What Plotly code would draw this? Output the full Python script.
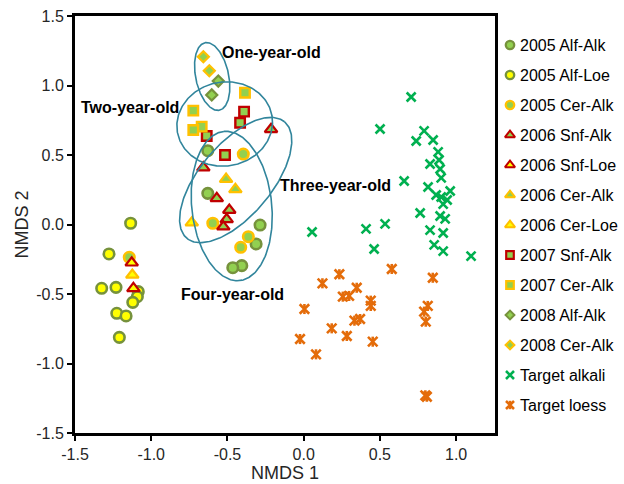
import numpy as np
import plotly.graph_objects as go

# ---------------- data ----------------
alfalk05_x = [-0.629, -0.629, -0.286, -0.312, -0.406, -0.465]
alfalk05_y = [0.531, 0.224, -0.004, -0.140, -0.296, -0.311]
alfloe05_x = [-1.135, -1.277, -1.325, -1.231, -1.085, -1.091, -1.121, -1.226, -1.165, -1.209]
alfloe05_y = [0.009, -0.212, -0.459, -0.452, -0.483, -0.519, -0.560, -0.639, -0.658, -0.812]
ceralk05_x = [-1.144, -0.396, -0.596, -0.363, -0.413]
ceralk05_y = [-0.236, 0.507, 0.009, -0.088, -0.164]
snfalk06_x = [-0.214, -0.658, -0.570, -0.488, -0.505, -0.527]
snfalk06_y = [0.685, 0.409, 0.188, 0.104, 0.037, -0.016]
snfloe06_x = [-1.128, -1.117]
snfloe06_y = [-0.275, -0.459]
ceralk06_x = [-0.509, -0.448]
ceralk06_y = [0.327, 0.253]
cerloe06_x = [-0.734, -1.124]
cerloe06_y = [0.013, -0.363]
snfalk07_x = [-0.391, -0.417, -0.636, -0.516]
snfalk07_y = [0.812, 0.732, 0.637, 0.500]
ceralk07_x = [-0.385, -0.724, -0.669, -0.724]
ceralk07_y = [0.948, 0.819, 0.704, 0.680]
alfalk08_x = [-0.560, -0.603]
alfalk08_y = [1.032, 0.932]
ceralk08_x = [-0.658, -0.619]
ceralk08_y = [1.207, 1.106]
tgt_alk_x = [0.705, 0.501, 0.790, 0.738, 0.849, 0.882, 0.829, 0.888, 0.895, 0.902,
             0.659, 0.816, 0.869, 0.902, 0.961, 0.941, 0.915, 0.764, 0.895, 0.928,
             0.829, 0.915, 0.409, 0.534, 0.856, 0.915, 0.462, 1.098, 0.055]
tgt_alk_y = [0.917, 0.687, 0.673, 0.601, 0.608, 0.522, 0.435, 0.464, 0.399, 0.335,
             0.313, 0.270, 0.212, 0.198, 0.241, 0.176, 0.147, 0.083, 0.061, 0.040,
             -0.040, -0.061, -0.032, 0.004, -0.147, -0.191, -0.176, -0.227, -0.054]
tgt_loe_x = [0.578, 0.234, 0.123, 0.847, 0.348, 0.257, 0.298, 0.440, 0.440, 0.005,
             0.814, 0.790, 0.801, 0.333, 0.370, 0.184, 0.283, -0.024, 0.453, 0.081,
             0.808, 0.798]
tgt_loe_y = [-0.320, -0.358, -0.423, -0.383, -0.455, -0.519, -0.514, -0.548, -0.586, -0.608,
             -0.586, -0.627, -0.699, -0.692, -0.680, -0.747, -0.802, -0.824, -0.843, -0.934,
             -1.239, -1.229]

series_names = ["2005 Alf-Alk", "2005 Alf-Loe", "2005 Cer-Alk", "2006 Snf-Alk", "2006 Snf-Loe",
                "2006 Cer-Alk", "2006 Cer-Loe", "2007 Snf-Alk", "2007 Cer-Alk", "2008 Alf-Alk",
                "2008 Cer-Alk", "Target alkali", "Target loess"]
x_tickvals = [-1.5, -1.0, -0.5, 0.0, 0.5, 1.0]
x_ticktext = ["-1.5", "-1.0", "-0.5", "0.0", "0.5", "1.0"]
y_tickvals = [-1.5, -1.0, -0.5, 0.0, 0.5, 1.0, 1.5]
y_ticktext = ["-1.5", "-1.0", "-0.5", "0.0", "0.5", "1.0", "1.5"]
group_labels = ["One-year-old", "Two-year-old", "Three-year-old", "Four-year-old"]

# ---------------- styling ----------------
FONT = "Liberation Sans, Arial, sans-serif"
GREEN = "#92D050"
OLIVE = "#76923C"
YELLOW = "#FFFF00"
GOLD = "#FFC000"
RED = "#C00000"
TEAL = "#31859C"
XGREEN = "#00B050"
ORANGE = "#E46C0A"

SYM = {"circle": (10.5, 2.6), "triangle-up": (11, 2.2), "square": (9.5, 2.4), "diamond": (8.5, 2.2)}
specs = [
    (alfalk05_x, alfalk05_y, "circle", GREEN, OLIVE),
    (alfloe05_x, alfloe05_y, "circle", YELLOW, OLIVE),
    (ceralk05_x, ceralk05_y, "circle", GREEN, GOLD),
    (snfalk06_x, snfalk06_y, "triangle-up", GREEN, RED),
    (snfloe06_x, snfloe06_y, "triangle-up", YELLOW, RED),
    (ceralk06_x, ceralk06_y, "triangle-up", GREEN, GOLD),
    (cerloe06_x, cerloe06_y, "triangle-up", YELLOW, GOLD),
    (snfalk07_x, snfalk07_y, "square", GREEN, RED),
    (ceralk07_x, ceralk07_y, "square", GREEN, GOLD),
    (alfalk08_x, alfalk08_y, "diamond", GREEN, OLIVE),
    (ceralk08_x, ceralk08_y, "diamond", GREEN, GOLD),
]

PLOT_L, PLOT_T, PLOT_W, PLOT_H = 75, 16, 420, 417
FIG_W, FIG_H = 624, 484
X_RANGE = [-1.5, 1.255]
Y_RANGE = [-1.5, 1.5]
SX = PLOT_W / (X_RANGE[1] - X_RANGE[0])
SY = PLOT_H / (Y_RANGE[1] - Y_RANGE[0])
PAPER_W = FIG_W - PLOT_L

fig = go.Figure()

for (xs, ys, sym, fill, edge), name in zip(specs, series_names):
    size, lw = SYM[sym]
    fig.add_trace(go.Scatter(x=xs, y=ys, mode="markers", name=name,
                             marker=dict(symbol=sym, size=size, color=fill,
                                         line=dict(color=edge, width=lw)),
                             cliponaxis=False))

# target alkali (x)
fig.add_trace(go.Scatter(x=tgt_alk_x, y=tgt_alk_y, mode="markers", name=series_names[11],
                         marker=dict(symbol="x-thin", size=9, line=dict(color=XGREEN, width=2.6))))
# target loess (excel-style star: x + vertical bar)
fig.add_trace(go.Scatter(x=tgt_loe_x, y=tgt_loe_y, mode="markers", name=series_names[12],
                         marker=dict(symbol="x-thin", size=9.5, line=dict(color=ORANGE, width=2.6))))
fig.add_trace(go.Scatter(x=tgt_loe_x, y=tgt_loe_y, mode="markers", showlegend=False,
                         marker=dict(symbol="line-ns", size=7.2, line=dict(color=ORANGE, width=2.6))))

# ellipses: centre (data units), semi-axes (px), angle (deg, counter-clockwise)
ellipses = [
    (-0.600, 1.065, 34.5, 16.5, 102.0),
    (-0.518, 0.723, 48.0, 42.0, 10.0),
    (-0.446, 0.320, 76.0, 36.0, 50.0),
    (-0.472, 0.133, 75.0, 40.0, 96.0),
]
t = np.linspace(0, 2 * np.pi, 240)
for cx, cy, a, b, ang in ellipses:
    th = np.radians(ang)
    px = a * np.cos(t) * np.cos(th) - b * np.sin(t) * np.sin(th)
    py = a * np.cos(t) * np.sin(th) + b * np.sin(t) * np.cos(th)
    fig.add_trace(go.Scatter(x=cx + px / SX, y=cy + py / SY, mode="lines", showlegend=False,
                             hoverinfo="skip", line=dict(color=TEAL, width=1.6)))

# group labels
label_pos = [(-0.55, 1.241, "left"), (-1.14, 0.845, "center"), (-0.171, 0.284, "left"), (-0.465, -0.507, "center")]
for txt, (lx, ly, anc) in zip(group_labels, label_pos):
    fig.add_annotation(x=lx, y=ly, xref="x", yref="y", text="<b>%s</b>" % txt, showarrow=False,
                       xanchor=anc, yanchor="middle",
                       font=dict(family=FONT, size=16, color="black"))

# manual legend on an auxiliary pixel axis to the right of the plot
LEG_X0 = 500
leg_marker_x = 10
leg_text_x = 18
leg_y0, leg_dy = 29, 30
leg_specs = [(s[2], s[3], s[4]) for s in specs]
for i, (sym, fill, edge) in enumerate(leg_specs):
    size, lw = SYM[sym]
    fig.add_trace(go.Scatter(x=[leg_marker_x], y=[leg_y0 + i * leg_dy], xaxis="x2", yaxis="y2",
                             mode="markers", showlegend=False, cliponaxis=False,
                             marker=dict(symbol=sym, size=size * 0.8, color=fill,
                                         line=dict(color=edge, width=lw * 0.9))))
i = 11
fig.add_trace(go.Scatter(x=[leg_marker_x], y=[leg_y0 + i * leg_dy], xaxis="x2", yaxis="y2",
                         mode="markers", showlegend=False, cliponaxis=False,
                         marker=dict(symbol="x-thin", size=8, line=dict(color=XGREEN, width=2.6))))
i = 12
fig.add_trace(go.Scatter(x=[leg_marker_x], y=[leg_y0 + i * leg_dy], xaxis="x2", yaxis="y2",
                         mode="markers", showlegend=False, cliponaxis=False,
                         marker=dict(symbol="x-thin", size=8, line=dict(color=ORANGE, width=2.6))))
fig.add_trace(go.Scatter(x=[leg_marker_x], y=[leg_y0 + i * leg_dy], xaxis="x2", yaxis="y2",
                         mode="markers", showlegend=False, cliponaxis=False,
                         marker=dict(symbol="line-ns", size=6, line=dict(color=ORANGE, width=2.6))))
for i, name in enumerate(series_names):
    fig.add_annotation(x=leg_text_x, y=leg_y0 + i * leg_dy, xref="x2", yref="y2", text=name,
                       showarrow=False, xanchor="left", yanchor="middle",
                       font=dict(family=FONT, size=16, color="black"))

axis_common = dict(showline=True, linecolor="black", linewidth=3, mirror=True,
                   ticks="outside", ticklen=5, tickwidth=2, tickcolor="black",
                   showgrid=False, zeroline=False,
                   tickfont=dict(family=FONT, size=16, color="#262626"))

fig.update_layout(
    width=FIG_W, height=FIG_H,
    margin=dict(l=PLOT_L, r=0, t=PLOT_T, b=FIG_H - PLOT_T - PLOT_H),
    plot_bgcolor="white", paper_bgcolor="white", showlegend=False,
    font=dict(family=FONT, color="#262626"),
    xaxis=dict(domain=[0, PLOT_W / PAPER_W], range=X_RANGE, tickvals=x_tickvals, ticktext=x_ticktext,
               title=dict(text="NMDS 1", font=dict(family=FONT, size=18, color="#262626"), standoff=0),
               **axis_common),
    yaxis=dict(domain=[0, 1], range=Y_RANGE, tickvals=y_tickvals, ticktext=y_ticktext,
               title=dict(text="NMDS 2", font=dict(family=FONT, size=18, color="#262626"), standoff=3),
               **axis_common),
    xaxis2=dict(domain=[(LEG_X0 - PLOT_L) / PAPER_W, 1], range=[0, FIG_W - LEG_X0],
                visible=False, anchor="y2"),
    yaxis2=dict(domain=[0, 1], range=[PLOT_H, 0], visible=False, anchor="x2"),
)

fig.write_html("out.html")
